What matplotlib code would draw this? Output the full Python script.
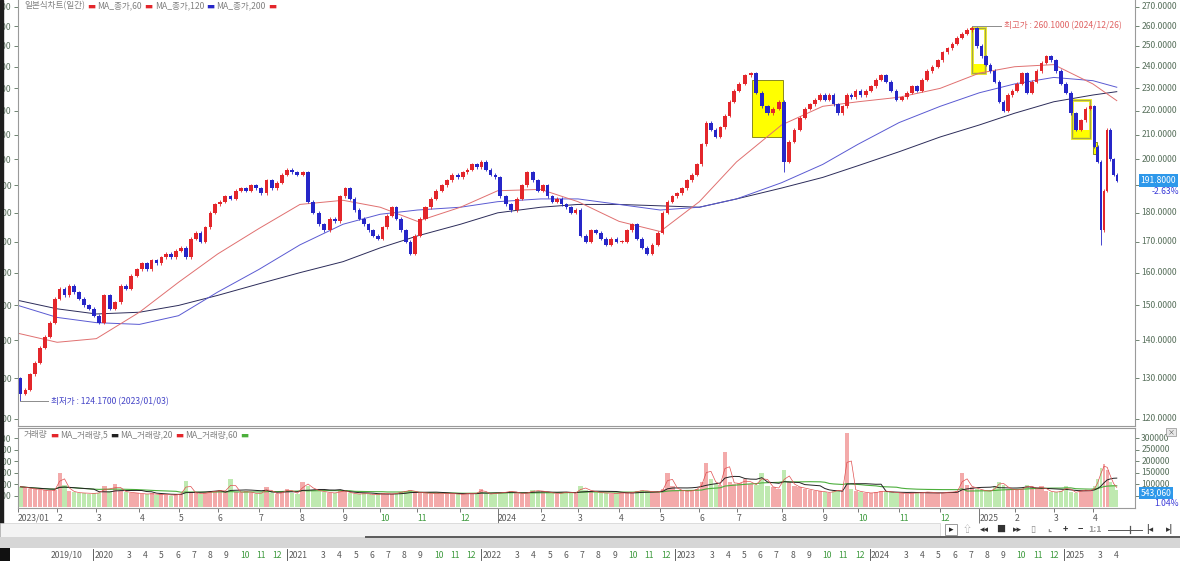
import numpy as np
import pandas as pd
import matplotlib
matplotlib.use('Agg')
from matplotlib import pyplot as plt
from matplotlib.patches import Rectangle
from matplotlib.lines import Line2D
from matplotlib.ticker import FixedLocator, NullLocator, FuncFormatter

plt.rcParams['font.family'] = ['Noto Sans CJK KR', 'DejaVu Sans']

# trading days per month, 2023/01 .. 2025/04
month_days = [20, 20, 22, 20, 20, 21, 21, 22, 19, 19, 22, 19,
              22, 19, 21, 21, 20, 19, 23, 21, 18, 21, 21, 20,
              18, 20, 20, 13]
month_num = list(range(1, 13)) * 2 + [1, 2, 3, 4]

first_open = 130
close_2023 = [
    [126, 127, 131, 134, 138, 141, 145, 152],
    [155, 153, 156, 154, 152, 150, 149, 147],
    [145, 153, 149, 151, 156, 155, 159, 161],
    [163, 161, 164, 163, 165, 166, 165, 167],
    [168, 165, 171, 173, 170, 175, 180, 183],
    [184, 186, 185, 188, 189, 188, 190, 189],
    [187, 192, 189, 191, 194, 196, 195, 194],
    [195, 184, 180, 176, 174, 178, 177, 186],
    [189, 185, 181, 178, 176, 174, 172, 171],
    [175, 179, 182, 178, 174, 170, 166, 172],
    [178, 182, 185, 188, 190, 192, 194, 193],
    [195, 196, 198, 197, 199, 196, 194, 193],
]
close_2024 = [
    [186, 183, 181, 185, 190, 195, 192, 188],
    [190, 186, 184, 185, 183, 182, 180, 181],
    [172, 170, 174, 173, 171, 169, 171, 170],
    [170, 174, 176, 171, 168, 166, 169, 173],
    [180, 184, 186, 187, 189, 192, 194, 198],
    [206, 215, 212, 209, 213, 218, 224, 229],
    [232, 236, 237, 228, 222, 219, 221, 224],
    [199, 207, 212, 217, 221, 223, 225, 227],
    [225, 227, 223, 219, 222, 227, 226, 229],
    [227, 229, 231, 234, 236, 233, 229, 225],
    [226, 228, 231, 229, 234, 238, 240, 243],
    [247, 249, 251, 254, 256, 258, 259, 250],
]
close_2025 = [
    [245, 241, 238, 233, 224, 220, 227, 229],
    [232, 237, 228, 233, 238, 242, 245, 243],
    [238, 232, 228, 219, 212, 216, 221, 222],
    [205, 199, 174, 188, 212, 200, 194, 191.8],
]
# long wicks (month index, candle index): price
low_marks = {(0, 0): 124.17, (19, 0): 195, (27, 2): 169}
high_marks = {(23, 6): 260.1}

# volume, thousand shares
vol_2023 = [
    [88, 84, 80, 78, 75, 72, 70, 74],
    [150, 95, 70, 65, 60, 62, 58, 60],
    [62, 90, 68, 100, 70, 65, 62, 60],
    [58, 55, 60, 52, 56, 54, 50, 55],
    [58, 115, 64, 60, 58, 62, 66, 70],
    [72, 68, 120, 66, 62, 70, 60, 58],
    [62, 85, 60, 58, 65, 80, 62, 58],
    [110, 90, 75, 70, 65, 62, 60, 72],
    [68, 60, 58, 55, 60, 56, 52, 55],
    [60, 58, 55, 62, 66, 70, 75, 62],
    [64, 60, 58, 62, 56, 60, 58, 55],
    [56, 60, 58, 62, 80, 55, 58, 60],
]
vol_2024 = [
    [62, 66, 70, 60, 58, 64, 72, 70],
    [68, 64, 60, 58, 62, 66, 60, 62],
    [90, 75, 70, 65, 60, 62, 58, 60],
    [62, 60, 64, 70, 72, 68, 66, 64],
    [80, 150, 90, 75, 70, 68, 72, 80],
    [110, 190, 120, 100, 95, 240, 110, 100],
    [105, 120, 100, 95, 150, 90, 85, 80],
    [160, 110, 90, 85, 80, 75, 70, 68],
    [65, 62, 70, 75, 68, 320, 80, 70],
    [66, 62, 60, 65, 70, 68, 64, 62],
    [60, 58, 62, 60, 64, 66, 62, 60],
    [62, 66, 64, 70, 150, 95, 85, 80],
]
vol_2025 = [
    [72, 70, 68, 90, 110, 95, 80, 75],
    [74, 80, 95, 85, 78, 90, 70, 66],
    [64, 70, 90, 66, 62, 75, 72, 70],
    [90, 120, 170, 185, 160, 110, 95, 75],
]

# moving averages read at each month start and at the last candle
ma60 = [142, 139.5, 140.5, 148, 157, 166, 174.5, 183, 184.5, 182, 177, 182, 188, 188.5,
        184, 177, 173.5, 184, 199, 214, 222, 224, 226, 230, 237, 240, 241, 232, 224.5]
ma120 = [150, 146.5, 145, 144.5, 147, 154, 161, 169, 176, 179.5, 181, 182, 184, 185,
         185, 183, 181, 182, 185, 191, 198, 206, 215, 222, 228, 232, 235, 233.5, 230.5]
ma200 = [151.5, 149, 147.5, 148, 150, 153, 156.5, 160, 163.5, 168, 172, 176, 180, 182,
         183, 183, 182.5, 182, 185, 189, 193, 197.5, 203, 209, 214, 219, 224, 227, 228.5]

price_ticks = list(range(120, 271, 10))
vol_ticks = [50000, 100000, 150000, 200000, 250000, 300000]

# ---------------------------------------------------------------
months = close_2023 + close_2024 + close_2025
vmonths = vol_2023 + vol_2024 + vol_2025
starts = np.r_[0, np.cumsum(month_days)[:-1]]
closes = np.array([v for m in months for v in m], dtype=float)
vols = np.array([v for m in vmonths for v in m], dtype=float) * 1000
x = np.concatenate([starts[k] + (np.arange(len(m)) + 0.5) * month_days[k] / len(m)
                    for k, m in enumerate(months)])
step = np.concatenate([np.full(len(m), month_days[k] / len(m)) for k, m in enumerate(months)])
offs = np.r_[0, np.cumsum([len(m) for m in months])[:-1]]

opens = np.r_[first_open, closes[:-1]]
up = closes >= opens
b_lo = np.minimum(opens, closes)
b_hi = np.maximum(opens, closes)
highs = b_hi * 1.003
lows = b_lo / 1.003
for (mi, ci), v in low_marks.items():
    lows[offs[mi] + ci] = v
for (mi, ci), v in high_marks.items():
    highs[offs[mi] + ci] = v

RED = '#e3262b'
BLUE = '#2626c8'
ccol = np.where(up, RED, BLUE)
vcol = np.where(up, '#f3aaaa', '#bfe9b0')

W, H = 1180, 561
fig = plt.figure(figsize=(11.8, 5.61), dpi=100)


def frac(x0, y0, x1, y1):
    return [x0 / W, 1 - y1 / H, (x1 - x0) / W, (y1 - y0) / H]


def px(xp, yp):
    return xp / W, 1 - yp / H


LBL = '#58705c'
FS = 6.2


def right_labels(a, ticks, skip, fmt):
    # right side labels drawn by hand so the value box can sit over one of them
    for t in ticks:
        if t == skip:
            continue
        a.annotate(fmt(t), xy=(1, t), xycoords=('axes fraction', 'data'), xytext=(4.5, 0),
                   textcoords='offset points', ha='left', va='center', fontsize=FS,
                   color=LBL, annotation_clip=False)


# ---- price panel ----
ax = fig.add_axes(frac(18, 0, 1135, 426))
ax.set_yscale('log')
ax.set_ylim(118.3, 273.7)
ax.set_xlim(0, 570.5)
ax.set_xticks([])
ax.yaxis.set_major_locator(FixedLocator(price_ticks))
ax.yaxis.set_minor_locator(NullLocator())
ax.yaxis.set_major_formatter(FuncFormatter(lambda v, p: f'{v:.4f}'))
ax.tick_params(axis='y', which='major', left=True, right=True, labelleft=True,
               labelright=False, direction='out', length=3, width=0.6, pad=1.5,
               labelsize=FS, colors=LBL)
right_labels(ax, price_ticks, 190, lambda v: f'{v:.4f}')
for s in ['left', 'right', 'bottom']:
    ax.spines[s].set_color('#9a9a9a')
    ax.spines[s].set_linewidth(0.8)
ax.spines['top'].set_visible(False)

# highlight boxes (day range, price range)
hl_boxes = [(375, 390.7, 209, 234, 'fill'), (487.2, 493.9, 237, 259, 'frame'),
            (538.3, 547.5, 208.5, 225, 'frame'), (549.0, 551.1, 202.3, 207, 'fill')]
for x0, x1, p0, p1, kind in hl_boxes:
    if kind == 'fill':
        ax.add_patch(Rectangle((x0, p0), x1 - x0, p1 - p0, fc='#ffff00', ec='#8a8a20',
                               lw=0.7, zorder=1))
    else:
        ax.add_patch(Rectangle((x0, p0), x1 - x0, (p1 - p0) * 0.2, fc='#ffff00', ec='none',
                               zorder=1))
        ax.add_patch(Rectangle((x0, p0), x1 - x0, p1 - p0, fc='none', ec='#e6e61a',
                               lw=2.0, zorder=1))
        ax.add_patch(Rectangle((x0, p0), x1 - x0, p1 - p0, fc='none', ec='#8a8a60',
                               lw=0.5, zorder=1))

xm = np.r_[starts, x[-1]]
ax.plot(xm, ma200, color='#2c2c5a', lw=0.7, zorder=2)
ax.plot(xm, ma120, color='#5a5ad2', lw=0.7, zorder=2)
ax.plot(xm, ma60, color='#e07070', lw=0.7, zorder=2)

ax.vlines(x, lows, highs, colors=ccol, lw=0.6, zorder=3)
ax.bar(x, np.maximum(b_hi - b_lo, 0.3), bottom=b_lo, width=step * 0.75, color=ccol,
       lw=0, zorder=4)

# max / min notes
i_hi = int(np.argmax(highs))
i_lo = int(np.argmin(lows))
ax.plot([x[i_hi], x[i_hi] + 15], [highs[i_hi]] * 2, color='#8c8c8c', lw=0.7, zorder=5)
ax.text(x[i_hi] + 16.5, highs[i_hi], f'최고가 : {highs[i_hi]:.4f} (2024/12/26)',
        color='#e06464', fontsize=FS, va='center', ha='left')
ax.plot([x[i_lo], x[i_lo] + 14], [lows[i_lo]] * 2, color='#8c8c8c', lw=0.7, zorder=5)
ax.text(x[i_lo] + 15.5, lows[i_lo], f'최저가 : {lows[i_lo]:.4f} (2023/01/03)',
        color='#4646c8', fontsize=FS, va='center', ha='left')

# current price box
ax.annotate(f'{closes[-1]:.4f}', xy=(1, closes[-1]), xycoords=('axes fraction', 'data'),
            xytext=(4, 0), textcoords='offset points', ha='left', va='center',
            fontsize=FS, color='white', annotation_clip=False,
            bbox=dict(boxstyle='square,pad=0.2', fc='#2e98ea', ec='none'))
ax.annotate('-2.63%', xy=(1, closes[-1]), xycoords=('axes fraction', 'data'),
            xytext=(12, -8), textcoords='offset points', ha='left', va='center',
            fontsize=FS, color='#3a3ad8', annotation_clip=False)

# ---- volume panel ----
axv = fig.add_axes(frac(18, 428, 1135, 508))
axv.set_xlim(0, 570.5)
axv.set_ylim(-4300, 343500)
axv.bar(x, vols, width=step * 0.85, color=vcol, lw=0, zorder=2)
vs = pd.Series(vols)
axv.plot(x, vs.rolling(24, min_periods=1).mean(), color='#4caf3c', lw=0.8, zorder=3)
axv.plot(x, vs.rolling(8, min_periods=1).mean(), color='#222222', lw=0.7, zorder=3)
axv.plot(x, vs.rolling(2, min_periods=1).mean(), color='#e05050', lw=0.5, zorder=3)
axv.yaxis.set_major_locator(FixedLocator(vol_ticks))
axv.yaxis.set_major_formatter(FuncFormatter(lambda v, p: f'{int(v)}'))
axv.tick_params(axis='y', left=True, right=True, labelleft=True, labelright=False,
                direction='out', length=3, width=0.6, pad=1.5, labelsize=FS, colors=LBL)
right_labels(axv, vol_ticks, 50000, lambda v: f'{int(v)}')
for s in ['left', 'right', 'bottom', 'top']:
    axv.spines[s].set_color('#9a9a9a')
    axv.spines[s].set_linewidth(0.8)
axv.set_xticks(starts)
xl = []
for k, mn in enumerate(month_num):
    if k == 0:
        xl.append('2023/01')
    elif mn == 1:
        xl.append(str(2023 + k // 12))
    else:
        xl.append(str(mn))
axv.set_xticklabels(xl)
axv.tick_params(axis='x', direction='out', length=3, width=0.6, pad=1.0, labelsize=FS,
                colors='#606060')
for k, lab in enumerate(axv.get_xticklabels()):
    lab.set_ha('left')
    lab.set_color('#3e9a3e' if month_num[k] >= 10 else '#5a5a5a')
for k, tk in enumerate(axv.xaxis.get_major_ticks()):
    if month_num[k] == 1 and k > 0:
        tk.tick1line.set_markersize(11)
axv.annotate('543,060', xy=(1, 62000), xycoords=('axes fraction', 'data'),
             xytext=(4, 0), textcoords='offset points', ha='left', va='center',
             fontsize=FS, color='white', annotation_clip=False,
             bbox=dict(boxstyle='square,pad=0.2', fc='#2e98ea', ec='none'))
axv.annotate('1.04%', xy=(1, 62000), xycoords=('axes fraction', 'data'),
             xytext=(14, -8), textcoords='offset points', ha='left', va='center',
             fontsize=FS, color='#3a3ad8', annotation_clip=False)

# ---- legends ----
GRAY = '#808080'
price_leg = [('일본식차트(일간)', GRAY), ('▬', RED), ('MA_종가,60', GRAY), ('▬', RED),
             ('MA_종가,120', GRAY), ('▬', BLUE), ('MA_종가,200', GRAY), ('▬', RED)]
vol_leg = [('거래량', GRAY), ('▬', RED), ('MA_거래량,5', GRAY), ('▬', '#222222'),
           ('MA_거래량,20', GRAY), ('▬', RED), ('MA_거래량,60', GRAY), ('▬', '#4caf3c')]
for (xp, yp, parts, host) in [(24, 6, price_leg, ax), (24, 435, vol_leg, axv)]:
    prev = fig.text(*px(xp, yp), parts[0][0], color=parts[0][1], fontsize=6.2, va='center')
    for s, col in parts[1:]:
        prev = host.annotate(s, xy=(1, 0), xycoords=prev, xytext=(1.6, 0),
                             textcoords='offset points', va='bottom', ha='left',
                             fontsize=6.2, color=col, annotation_clip=False,
                             fontweight='bold' if s == '▬' else 'normal')

# ---- frame pieces: scroll row, gray band, navigator ----
fig.patches.append(Rectangle(px(0, 561), 3 / W, 1, transform=fig.transFigure,
                             color='#1e1e1e', zorder=0))
fig.patches.append(Rectangle(px(1166, 436), 10 / W, 8 / H, transform=fig.transFigure,
                             fc='#e8e8e8', ec='#909090', lw=0.5))
fig.text(*px(1171, 432), '×', fontsize=5, ha='center', va='center', color='#555555')
fig.patches.append(Rectangle(px(0, 537), 940 / W, 14 / H, transform=fig.transFigure,
                             fc='#f3f3f3', ec='#d0d0d0', lw=0.5))
fig.patches.append(Rectangle(px(0, 548), 1, 11 / H, transform=fig.transFigure,
                             fc='#d6d6d6', ec='none'))
fig.lines.append(Line2D([366 / W, 1], [1 - 536.5 / H] * 2, transform=fig.transFigure,
                        color='#5a5a5a', lw=1.4))
fig.patches.append(Rectangle(px(945, 535), 12 / W, 11 / H, transform=fig.transFigure,
                             fc='white', ec='#8a8a8a', lw=0.6))
icons = [(951, '▸', '#222222'), (967, '⇧', '#b0b0b0'), (984, '◂◂', '#333333'),
         (1001, '■', '#333333'), (1017, '▸▸', '#333333'), (1033, '▯', '#888888'),
         (1049, '⌞', '#888888'), (1065, '+', '#333333'), (1080, '−', '#333333'),
         (1095, '1:1', '#999999'), (1150, '|◂', '#333333'), (1170, '▸|', '#333333')]
for xp, g, col in icons:
    fig.text(*px(xp, 529.5), g, fontsize=6.5, ha='center', va='center', color=col,
             fontweight='bold')
fig.lines.append(Line2D([1108 / W, 1142 / W], [1 - 529.5 / H] * 2,
                        transform=fig.transFigure, color='#555555', lw=0.7))
fig.lines.append(Line2D([1130 / W] * 2, [1 - 533 / H, 1 - 526 / H],
                        transform=fig.transFigure, color='#555555', lw=0.9))

fig.patches.append(Rectangle(px(0, 561), 10 / W, 13 / H, transform=fig.transFigure,
                             fc='#111111', ec='none'))
nav_px0, nav_step = 93, 16.18   # 2020/01 position, px per month
for m in range(-3, 64):
    yr, mn = 2020 + m // 12, m % 12 + 1
    xp = nav_px0 + nav_step * m
    if m == -3:
        s = '2019/10'
        xp += 5
    elif yr < 2020 or mn == 2:
        continue
    elif mn == 1:
        s = str(yr)
        fig.lines.append(Line2D([xp / W] * 2, [1 - 560 / H, 1 - 549 / H],
                                transform=fig.transFigure, color='#444444', lw=0.6))
    else:
        s = str(mn)
    col = '#3e9a3e' if (mn >= 10 and m > -3) else '#5a5a5a'
    fig.text(*px(xp + 1.5, 555), s, fontsize=FS, ha='left', va='center', color=col)

fig.savefig('out.png', dpi=100, facecolor='white')
